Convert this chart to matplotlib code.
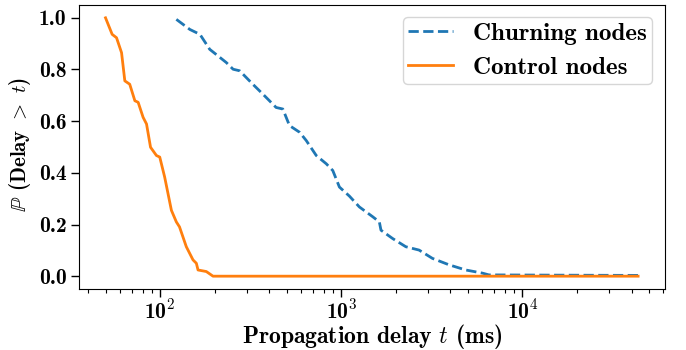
import matplotlib
matplotlib.use("Agg")
import matplotlib.pyplot as plt
from matplotlib.ticker import FixedLocator, FixedFormatter, LogLocator, NullFormatter

# Propagation delay CCDF (ms, P(Delay > t))
churn_t = [123, 146, 166, 188, 232, 253, 275, 325, 369, 437, 476, 518, 589, 641,
           728, 827, 898, 977, 1109, 1259, 1492, 1623, 1657, 1919, 2271, 2690,
           3184, 3935, 4862, 6000, 6530, 15000, 43500]
churn_p = [0.994, 0.955, 0.936, 0.878, 0.827, 0.801, 0.795, 0.743, 0.705, 0.653,
           0.647, 0.583, 0.557, 0.525, 0.467, 0.435, 0.409, 0.345, 0.310, 0.268,
           0.230, 0.210, 0.178, 0.146, 0.114, 0.101, 0.069, 0.044, 0.024, 0.012,
           0.005, 0.004, 0.003]

control_t = [50, 54.4, 57.5, 61.3, 63.9, 68, 72.6, 75.7, 80.6, 84.2, 88.6, 95.5,
             99.6, 106, 115.5, 123, 128, 139.6, 152, 158.6, 162, 180, 196, 43500]
control_p = [1.0, 0.936, 0.923, 0.865, 0.756, 0.743, 0.679, 0.673, 0.615, 0.589,
             0.499, 0.467, 0.461, 0.384, 0.255, 0.210, 0.191, 0.114, 0.063, 0.050,
             0.024, 0.018, 0.0, 0.0]

xticks = [1e2, 1e3, 1e4]
xtick_labels = [r'10$^{\mathbf{2}}$', r'10$^{\mathbf{3}}$', r'10$^{\mathbf{4}}$']
yticks = [0.0, 0.2, 0.4, 0.6, 0.8, 1.0]
ytick_labels = ['0.0', '0.2', '0.4', '0.6', '0.8', '1.0']

plt.rcParams['mathtext.fontset'] = 'cm'
plt.rcParams['axes.formatter.use_mathtext'] = True

fig = plt.figure(figsize=(6.86, 3.5), dpi=100)
ax = fig.add_axes([0.115, 0.174, 0.854, 0.812])

ax.plot(churn_t, churn_p, linestyle='--', color='#1f77b4', linewidth=2, label='Churning nodes')
ax.plot(control_t, control_p, linestyle='-', color='#ff7f0e', linewidth=2, label='Control nodes')

ax.set_xscale('log')
ax.xaxis.set_major_locator(FixedLocator(xticks))
ax.xaxis.set_major_formatter(FixedFormatter(xtick_labels))
ax.xaxis.set_minor_locator(LogLocator(base=10, subs=range(2, 10), numticks=20))
ax.xaxis.set_minor_formatter(NullFormatter())
ax.set_yticks(yticks)
ax.set_yticklabels(ytick_labels)

for lbl in ax.get_xticklabels() + ax.get_yticklabels():
    lbl.set_family('cmb10')
    lbl.set_fontsize(15.5)

ax.tick_params(axis='both', which='major', length=5.5, width=1, direction='out')
ax.tick_params(axis='x', which='major', pad=1.5)
ax.tick_params(axis='x', which='minor', length=3, width=0.8)

ax.set_xlabel(r'Propagation delay $t$ (ms)', family='cmb10', size=17, va='baseline')
ax.set_ylabel(r'$\mathbb{P}$ (Delay $>$ $t$)', family='cmb10', size=15)
ax.xaxis.set_label_coords(0.5, -0.188)
ax.yaxis.set_label_coords(-0.078, 0.51)

leg = ax.legend(loc='upper right', prop={'family': 'cmb10', 'size': 18},
                handlelength=1.8, borderpad=0.2, labelspacing=0.45, framealpha=0.8)

fig.savefig('out.png', dpi=100)
